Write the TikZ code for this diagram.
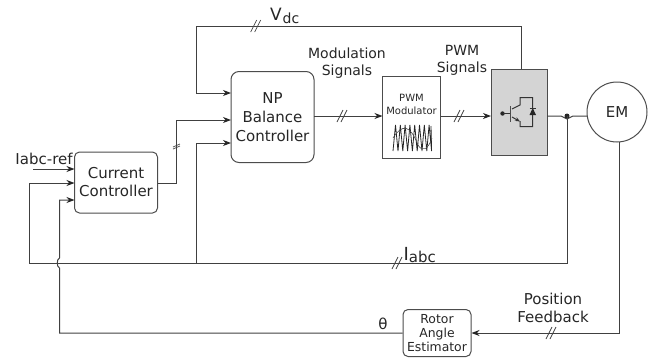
\documentclass[tikz,border=0pt]{standalone}
\usepackage{fontspec}
\setmainfont{DejaVu Sans}
\usetikzlibrary{arrows.meta,calc}
\newcommand{\fs}[1]{\fontsize{#1}{#1}\selectfont}
\begin{document}
\begin{tikzpicture}[x=1pt, y=-1pt, line width=1pt,
	wire/.style={black!75},
	feed/.style={black!75, -{Stealth[length=8pt,width=6pt,inset=2.5pt,black!85]}},
	block/.style={draw=black!70, rounded corners=5pt, align=center, text=black!85, inner sep=0pt},
	txt/.style={text=black!85, align=center, inner sep=0pt, font=\fs{15}},
	slash/.style={black!75, line width=0.7pt}]
	\useasboundingbox (0,0) rectangle (655,360);

	% blocks
	\node[block, font=\fs{15}, minimum width=83pt, minimum height=61pt] (cc) at (116,182.5) {Current\\[3pt]Controller};
	\node[block, font=\fs{15}, minimum width=83pt, minimum height=91pt, rounded corners=8pt] (np) at (272.5,117) {NP\\[4pt]Balance\\[4pt]Controller};
	\node[block, rounded corners=0pt, minimum width=58pt, minimum height=82pt] (pwm) at (411.5,117) {};
	\node[txt, font=\fs{10}] (pwmtext) at (411.5,104) {PWM\\[3pt]Modulator};
	\node[block, rounded corners=0pt, fill=black!17, minimum width=56pt, minimum height=86pt] (inv) at (519,112) {};
	\node[draw=black!70, circle, minimum size=60pt, inner sep=0pt, text=black!85, font=\fs{15}] (em) at (617,112) {EM};
	\node[block, font=\fs{12.4}, minimum width=68pt, minimum height=47pt] (rotor) at (437,333) {Rotor\\[2pt]Angle\\[2pt]Estimator};

	% junctions and corners
	\coordinate (invin) at (491,116);
	\coordinate (npout) at (314,116);
	\coordinate (pwmin) at (382.5,116);
	\coordinate (pwmout) at (440.5,116);
	\coordinate (invout) at (547,116);
	\coordinate (emin) at (587,116);
	\coordinate (dot) at (567,116);
	\coordinate (invtop) at (521,69);
	\coordinate (emout) at (619,142);
	\coordinate (refin) at (33,169);
	\coordinate (ccout) at (157.5,183);
	\coordinate (busin) at (196.5,263);

	% connectors
	\draw[feed] (invtop) |- (196.5,26) |- (231,93);
	\draw[feed] (ccout) -| (176,120) -- (231,120);
	\draw[feed] (npout) -- (pwmin);
	\draw[feed] (pwmout) -- (invin);
	\draw[feed] (refin) -- (74.5,169);
	\draw[wire] (invout) -- (561,116) .. controls (564,116) and (564,119) .. (567,119) .. controls (570,119) and (570,116) .. (573,116) -- (emin);
	\fill[black!85] (dot) circle (2.5pt);
	\draw[feed] (dot) |- (29,263) |- (74.5,183);
	\draw[feed] (busin) |- (231,143);
	\draw[feed] (emout) |- (rotor.east);
	\draw[feed] (rotor.west) -- (59.5,333) -- (59.5,268) .. controls (56.5,267) and (56.5,259) .. (59.5,258) |- (74.5,200);

	% bus slashes
	\foreach \x/\y in {255.7/26, 342/116, 459/116, 397/263, 551/333}
		\draw[slash] (\x-5,\y+6) -- (\x+1,\y-6) (\x-1,\y+6) -- (\x+5,\y-6);
	\draw[slash] (173,149) -- (180,146) (173,147) -- (180,144);

	% switch symbol
	\fill[black!85] (502.5,113.5) circle (2.2pt);
	\draw[black!80] (502.5,113.5) -- (510,113.5);
	\draw[black!70, line width=1.5pt] (510.5,106) -- (510.5,122);
	\draw[black!80] (512,109) -- (520,105) -- (520,97.5) -- (532.7,97.5) -- (532.7,126.5) -- (520,126.5) -- (520,121);
	\draw[black!80, -{Stealth[length=5pt,width=4pt]}] (512,117) -- (520,121.5);
	\fill[black!85] (532.7,108) -- (529.5,115) -- (536,115) -- cycle;
	\draw[black!80] (529.5,108) -- (536,108);

	% carrier and modulation wave
	\draw[black!85, line width=0.8pt] (393,151) \foreach \i in {0,...,7} { -- (395.5+\i*4.8,125) -- (398+\i*4.8,151) } -- (431,126);
	\draw[black!70, line width=0.6pt] (393,138) .. controls (402,124) and (410,124) .. (418,145) .. controls (422,152) and (428,150) .. (432,138);

	% labels
	\node[txt, anchor=base west] (iref) at (15,164) {Iabc-ref};
	\node[txt, anchor=base west, font=\fs{17}] (vdc) at (269.5,20) {V\kern1pt\raisebox{-3pt}{\fs{14}dc}};
	\node[txt, font=\fs{14}] (modsig) at (347,63.5) {Modulation\\[3pt]Signals};
	\node[txt, font=\fs{14}] (pwmsig) at (462,60) {PWM\\[3pt]Signals};
	\node[txt, anchor=base west, font=\fs{18}] (iabc) at (403,260) {I\raisebox{-2pt}{\fs{15}abc}};
	\node[txt, font=\fs{15}] (posfb) at (553,308) {Position\\[3pt]Feedback};
	\node[txt, anchor=base] (theta) at (383,329) {θ};
\end{tikzpicture}
\end{document}
